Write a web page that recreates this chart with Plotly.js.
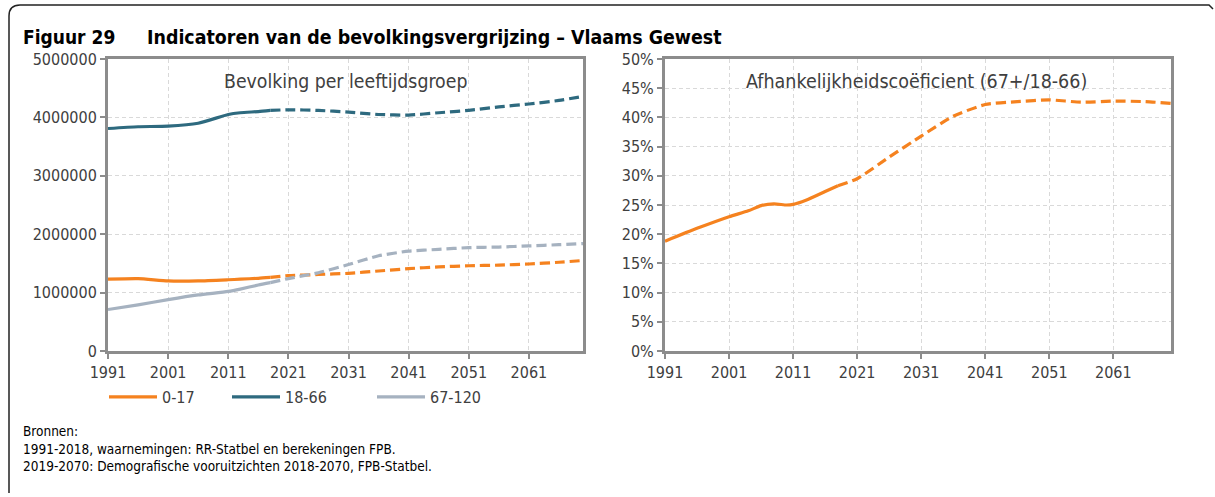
<!DOCTYPE html>
<html>
<head>
<meta charset="utf-8">
<script src="https://cdn.plot.ly/plotly-3.0.1.min.js"></script>
<style>
  html, body { margin: 0; padding: 0; background: #fff; }
  #chart { width: 1215px; height: 497px; }
</style>
</head>
<body>
<div id="chart"></div>
<script>
// years: observed up to 2018, projections from 2018 on
const obsYears = [1991, 1996, 2001, 2006, 2011, 2013, 2016, 2018];
const projYears = [2018, 2021, 2026, 2031, 2036, 2041, 2046, 2051, 2056, 2061, 2066, 2070];

const age0_17Obs = [1230000, 1240000, 1200000, 1200000, 1220000, 1230000, 1245000, 1260000];
const age0_17Proj = [1260000, 1290000, 1310000, 1330000, 1370000, 1410000, 1440000, 1460000, 1470000, 1490000, 1520000, 1550000];

const age18_66Obs = [3810000, 3840000, 3850000, 3900000, 4050000, 4080000, 4100000, 4120000];
const age18_66Proj = [4120000, 4130000, 4120000, 4090000, 4050000, 4040000, 4080000, 4120000, 4180000, 4230000, 4290000, 4360000];

const age67Obs = [710000, 790000, 880000, 960000, 1020000, 1060000, 1130000, 1170000];
const age67Proj = [1170000, 1240000, 1340000, 1480000, 1630000, 1710000, 1740000, 1770000, 1780000, 1800000, 1820000, 1840000];

const depYearsObs = [1991, 1996, 2001, 2004, 2006, 2008, 2010, 2011, 2013, 2016, 2018];
const depObs = [0.188, 0.210, 0.230, 0.240, 0.249, 0.252, 0.250, 0.251, 0.258, 0.273, 0.283];
const depYearsProj = [2018, 2021, 2026, 2031, 2036, 2041, 2046, 2051, 2056, 2061, 2066, 2070];
const depProj = [0.283, 0.295, 0.332, 0.368, 0.402, 0.422, 0.427, 0.430, 0.426, 0.428, 0.427, 0.424];

const xTicks = [1991, 2001, 2011, 2021, 2031, 2041, 2051, 2061];

const ORANGE = "#F5821F";
const TEAL = "#2E6A7F";
const GREY = "#A6B2C0";
const AXIS = "#8C8C8C";
const TXT = "#404040";
const FONT = "DejaVu Sans Condensed, DejaVu Sans";
const W = 1215, H = 497;

function px(x) { return x / W; }
function py(y) { return 1 - y / H; }

function line(x, y, color, dashed, name, xa, ya, legend) {
    return {
        x: x, y: y,
        type: "scatter", mode: "lines",
        name: name,
        xaxis: xa, yaxis: ya,
        showlegend: !!legend,
        legend: legend || "legend",
        line: { color: color, width: 3.2, shape: "spline", smoothing: 0.6, dash: dashed ? "10px,5px" : "solid" },
        hoverinfo: "x+y"
    };
}

var traces = [
    line(obsYears, age0_17Obs, ORANGE, false, "0-17", "x", "y", "legend"),
    line(projYears, age0_17Proj, ORANGE, true, "0-17", "x", "y"),
    line(obsYears, age18_66Obs, TEAL, false, "18-66", "x", "y", "legend2"),
    line(projYears, age18_66Proj, TEAL, true, "18-66", "x", "y"),
    line(obsYears, age67Obs, GREY, false, "67-120", "x", "y", "legend3"),
    line(projYears, age67Proj, GREY, true, "67-120", "x", "y"),
    line(depYearsObs, depObs, ORANGE, false, "67+/18-66", "x2", "y2"),
    line(depYearsProj, depProj, ORANGE, true, "67+/18-66", "x2", "y2")
];

var xaxisBase = {
    range: [1991, 2070],
    tickvals: xTicks,
    ticks: "outside", ticklen: 5, tickcolor: AXIS, tickwidth: 2,
    showline: true, linecolor: AXIS, linewidth: 3, mirror: true,
    showgrid: true, gridcolor: "#D9D9D9", gridwidth: 1, griddash: "4px,3px",
    zeroline: false,
    tickfont: { family: FONT, size: 16, color: TXT },
    fixedrange: true
};
var yaxisBase = {
    ticks: "outside", ticklen: 5, tickcolor: AXIS, tickwidth: 2,
    showline: true, linecolor: AXIS, linewidth: 3, mirror: true,
    showgrid: true, gridcolor: "#D9D9D9", gridwidth: 1, griddash: "4px,3px",
    zeroline: false,
    tickfont: { family: FONT, size: 16, color: TXT },
    fixedrange: true
};

var legendBase = {
    orientation: "h",
    yanchor: "middle", xanchor: "left",
    y: py(397),
    bgcolor: "rgba(0,0,0,0)",
    font: { family: FONT, size: 16, color: TXT },
    itemwidth: 48,
    tracegroupgap: 0
};

var layout = {
    width: W, height: H,
    margin: { l: 0, r: 0, t: 0, b: 0 },
    paper_bgcolor: "#fff",
    plot_bgcolor: "#fff",
    font: { family: FONT, color: TXT },
    xaxis: Object.assign({}, xaxisBase, { domain: [px(108), px(583)], anchor: "y" }),
    yaxis: Object.assign({}, yaxisBase, { domain: [py(351), py(59)], range: [0, 5000000], dtick: 1000000, tickformat: "d", anchor: "x" }),
    xaxis2: Object.assign({}, xaxisBase, { domain: [px(665), px(1171)], anchor: "y2" }),
    yaxis2: Object.assign({}, yaxisBase, { domain: [py(351), py(59)], range: [0, 0.5], dtick: 0.05, tickformat: ".0%", anchor: "x2" }),
    legend: Object.assign({}, legendBase, { x: px(104) }),
    legend2: Object.assign({}, legendBase, { x: px(227) }),
    legend3: Object.assign({}, legendBase, { x: px(372) }),
    annotations: [
        { text: "<b>Figuur 29</b>", xref: "paper", yref: "paper", x: px(21), y: py(37), xanchor: "left", yanchor: "middle", showarrow: false, font: { family: FONT, size: 19, color: "#000" } },
        { text: "<b>Indicatoren van de bevolkingsvergrijzing – Vlaams Gewest</b>", xref: "paper", yref: "paper", x: px(145), y: py(37), xanchor: "left", yanchor: "middle", showarrow: false, font: { family: FONT, size: 19.4, color: "#000" } },
        { text: "Bevolking per leeftijdsgroep", xref: "paper", yref: "paper", x: px(345), y: py(81), xanchor: "center", yanchor: "middle", showarrow: false, font: { family: FONT, size: 19.3, color: TXT } },
        { text: "Afhankelijkheidscoëficient (67+/18-66)", xref: "paper", yref: "paper", x: px(916), y: py(81), xanchor: "center", yanchor: "middle", showarrow: false, font: { family: FONT, size: 19.5, color: TXT } },
        { text: "Bronnen:", xref: "paper", yref: "paper", x: px(21), y: py(431), xanchor: "left", yanchor: "middle", showarrow: false, font: { family: FONT, size: 13.5, color: "#000" } },
        { text: "1991-2018, waarnemingen: RR-Statbel en berekeningen FPB.", xref: "paper", yref: "paper", x: px(21), y: py(449), xanchor: "left", yanchor: "middle", showarrow: false, font: { family: FONT, size: 13.5, color: "#000" } },
        { text: "2019-2070: Demografische vooruitzichten 2018-2070, FPB-Statbel.", xref: "paper", yref: "paper", x: px(21), y: py(466), xanchor: "left", yanchor: "middle", showarrow: false, font: { family: FONT, size: 13.5, color: "#000" } }
    ],
    shapes: [
        // outer frame: left and top edges with a rounded corner
        {
            type: "path", xref: "paper", yref: "paper",
            path: "M " + px(9) + "," + py(493) + " L " + px(9) + "," + py(16) +
                  " Q " + px(9) + "," + py(5) + " " + px(20) + "," + py(5) +
                  " L " + px(1209) + "," + py(5) + " L " + px(1213) + "," + py(9),
            line: { color: "#222", width: 1.5 }
        }
    ]
};

Plotly.newPlot("chart", traces, layout, { staticPlot: true, responsive: false });
</script>
</body>
</html>
